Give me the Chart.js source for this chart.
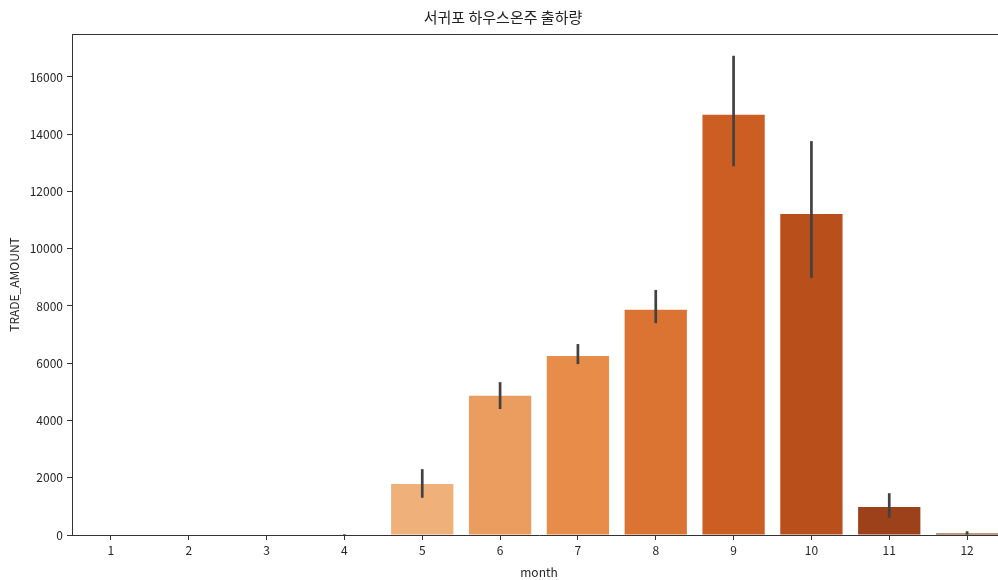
<!DOCTYPE html>
<html>
<head>
<meta charset="utf-8">
<script src="https://cdn.jsdelivr.net/npm/chart.js@4"></script>
<style>
  html, body { margin: 0; padding: 0; background: #fff; overflow: hidden; }
  #wrap { width: 1078px; height: 580px; }
</style>
</head>
<body>
<div id="wrap"><canvas id="chart"></canvas></div>
<script>
const months = ['1', '2', '3', '4', '5', '6', '7', '8', '9', '10', '11', '12'];
const tradeAmount = [0, 0, 0, 15, 1780, 4860, 6250, 7870, 14680, 11210, 975, 55];
const errLow = [0, 0, 0, 5, 1300, 4400, 5970, 7400, 12880, 8980, 600, 15];
const errHigh = [0, 0, 0, 30, 2300, 5340, 6670, 8560, 16740, 13760, 1460, 130];
const yTicks = [0, 2000, 4000, 6000, 8000, 10000, 12000, 14000, 16000];
const barColors = ['#f7ebdf', '#f6e1cc', '#f3d0ad', '#f1c59a', '#f0b07a', '#eb9c5f',
  '#e88c4a', '#db7433', '#cc5e23', '#b94f1b', '#9c4119', '#7d3312'];

const font = "'Noto Sans CJK KR', 'Noto Sans', sans-serif";
Chart.defaults.font.family = font;
Chart.defaults.color = '#262626';

const errorBars = {
  id: 'errorBars',
  afterDatasetsDraw(chart) {
    const { ctx, scales: { x, y } } = chart;
    ctx.save();
    ctx.strokeStyle = '#424242';
    ctx.lineWidth = 2.7;
    months.forEach((m, i) => {
      if (errHigh[i] <= errLow[i]) return;
      const px = x.getPixelForValue(i);
      ctx.beginPath();
      ctx.moveTo(px, y.getPixelForValue(errLow[i]));
      ctx.lineTo(px, y.getPixelForValue(errHigh[i]));
      ctx.stroke();
    });
    ctx.restore();
  }
};

// top spine (the right one falls outside the window)
const frame = {
  id: 'frame',
  afterDraw(chart) {
    const { ctx, chartArea: a } = chart;
    ctx.save();
    ctx.strokeStyle = '#333';
    ctx.lineWidth = 1;
    ctx.beginPath();
    ctx.moveTo(a.left, a.top + 0.5);
    ctx.lineTo(a.right, a.top + 0.5);
    ctx.stroke();
    ctx.restore();
  }
};

new Chart(document.getElementById('chart'), {
  type: 'bar',
  data: {
    labels: months,
    datasets: [{
      label: 'TRADE_AMOUNT',
      data: tradeAmount,
      backgroundColor: barColors,
      borderWidth: 0,
      categoryPercentage: 1,
      barPercentage: 0.8
    }]
  },
  options: {
    responsive: true,
    maintainAspectRatio: false,
    animation: false,
    layout: { padding: { left: 0, right: 72, top: 0, bottom: 0 } },
    plugins: {
      legend: { display: false },
      tooltip: { enabled: false },
      title: {
        display: true,
        text: '서귀포 하우스온주 출하량',
        color: '#222',
        font: { size: 15, weight: 'normal' },
        padding: { top: 8, bottom: 8 }
      }
    },
    scales: {
      x: {
        grid: { display: true, drawOnChartArea: false, offset: false, tickLength: 5, color: '#333' },
        border: { color: '#333', width: 1 },
        ticks: { font: { size: 12 }, padding: 3 },
        title: { display: true, text: 'month', font: { size: 12 }, padding: { top: 2, bottom: 0 } },
        afterFit(s) { s.height = 45; }
      },
      y: {
        min: 0,
        max: 17500,
        grid: { display: true, drawOnChartArea: false, tickLength: 5, color: '#333' },
        border: { color: '#333', width: 1 },
        ticks: { font: { size: 12 }, padding: 4, callback: v => String(v) },
        afterBuildTicks(s) { s.ticks = yTicks.map(v => ({ value: v })); },
        title: { display: true, text: 'TRADE_AMOUNT', font: { size: 12 }, padding: { top: 7, bottom: 4 } },
        afterFit(s) { s.width = 72; }
      }
    }
  },
  plugins: [errorBars, frame]
});
</script>
</body>
</html>
